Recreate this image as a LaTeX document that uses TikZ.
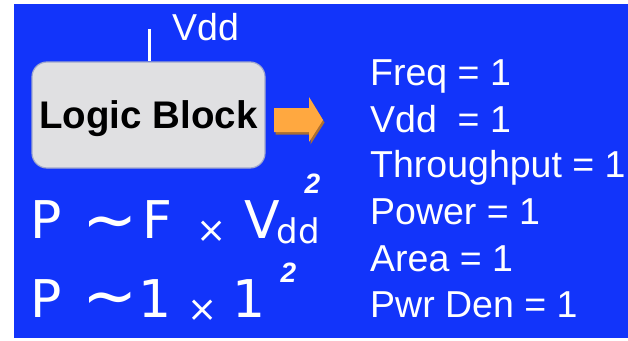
\documentclass[tikz,border=0pt]{standalone}
\usepackage{fontspec}
\setmainfont{Liberation Sans}
\newfontfamily\eqf{DejaVu Sans}
\newfontfamily\supf{Liberation Sans}
\definecolor{bgblue}{RGB}{18,52,250}
\definecolor{boxfill}{RGB}{224,224,226}
\definecolor{boxline}{RGB}{160,168,205}
\definecolor{arrfill}{RGB}{255,168,64}
\definecolor{arrshadow}{RGB}{170,110,50}
\begin{document}
\begin{tikzpicture}[x=1pt,y=-1pt,
  txt/.style={text=white, inner sep=0pt, font=\fontsize{37.5}{40}\selectfont},
  listitem/.style={txt, anchor=base west},
  eqbig/.style={text=white, inner sep=0pt, anchor=base, font=\eqf\fontsize{52}{56}\selectfont},
  eqtilde/.style={text=white, inner sep=0pt, anchor=base, font=\eqf\fontsize{66}{70}\selectfont},
  eqsub/.style={text=white, inner sep=0pt, anchor=base, font=\eqf\fontsize{34}{38}\selectfont},
  eqop/.style={text=white, inner sep=0pt, anchor=base, font=\eqf\fontsize{36}{40}\selectfont},
  eqsup/.style={text=white, inner sep=0pt, anchor=base, font=\supf\bfseries\itshape\fontsize{28}{30}\selectfont},
  blockbox/.style={draw=boxline, line width=1.2pt, fill=boxfill, rounded corners=15pt,
     minimum width=233pt, minimum height=106pt, inner sep=0pt,
     text height=27.5pt, text depth=0pt,
     font=\bfseries\fontsize{38.5}{40}\selectfont}
]
\useasboundingbox (0,0) rectangle (628,340);
\fill[white] (0,0) rectangle (628,340);
\fill[bgblue] (14,4) rectangle (628,337.5);

% Vdd supply
\node[txt, anchor=base west] (vdd) at (172,40) {Vdd};
\coordinate (vtop) at (149.5,29);

% Logic block
\node[blockbox] (lb) at (148.5,115) {Logic Block};
\draw[white, line width=2.6pt] (vtop) -- (vtop |- lb.north);

% Orange block arrow
\fill[arrshadow] (275.5,110.5) -- (310.5,110.5) -- (310.5,99.5) -- (324.5,122.5)
   -- (310.5,144.5) -- (310.5,134.5) -- (275.5,134.5) -- cycle;
\fill[arrfill] (274,108) -- (309,108) -- (309,97) -- (323,120)
   -- (309,142) -- (309,132) -- (274,132) -- cycle;

% Equation 1: P ~ F x Vdd^2
\node[eqbig] (p1) at (46,238) {P};
\node[eqtilde] (t1) at (110,242.5) {\char"007E};
\node[eqbig] (f1) at (157,238) {F};
\node[eqop] (m1) at (212,242.5) {×};
\node[eqbig] (v1) at (262,238) {V};
\node[eqsub] (d1) at (298.5,243) {dd};
\node[eqsup] (s1) at (312.5,193) {2};

% Equation 2: P ~ 1 x 1^2
\node[eqbig] (p2) at (46,317) {P};
\node[eqtilde] (t2) at (110,318.5) {\char"007E};
\node[eqbig] (o1) at (155.5,317) {1};
\node[eqop] (m2) at (203,321.5) {×};
\node[eqbig] (o2) at (249,317) {1};
\node[eqsup] (s2) at (288.5,282) {2};

% Right list
\node[listitem] (l1) at (370,85.5) {Freq = 1};
\node[listitem] (l2) at (370,132.5) {Vdd\ \ = 1};
\node[listitem] (l3) at (370,177.5) {Throughput = 1};
\node[listitem] (l4) at (370,224) {Power = 1};
\node[listitem] (l5) at (370,271) {Area = 1};
\node[listitem] (l6) at (370,317) {Pwr Den = 1};
\end{tikzpicture}
\end{document}
